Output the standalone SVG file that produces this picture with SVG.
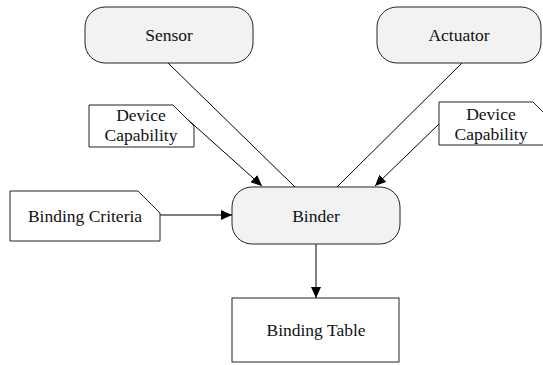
<svg xmlns="http://www.w3.org/2000/svg" width="543" height="365" viewBox="0 0 543 365">
<style>
.proc{fill:#f2f2f2;stroke:#222;stroke-width:1}
.note{fill:#fff;stroke:#222;stroke-width:1}
.box{fill:#fff;stroke:#222;stroke-width:1}
text{font-family:"Liberation Serif","Times New Roman",serif;font-size:17.5px;fill:#111;text-anchor:middle}
.edge{stroke:#000;stroke-width:1;fill:none}
</style>
<defs>
<marker id="arr" markerUnits="userSpaceOnUse" markerWidth="12" markerHeight="10" refX="11" refY="5" orient="auto">
<path d="M0,0 L11,5 L0,10 Z" fill="#000"/>
</marker>
</defs>
<rect width="543" height="365" fill="#fff"/>
<g id="connectors">
<line class="edge" x1="168" y1="63" x2="295" y2="187"/>
<line class="edge" x1="462" y1="63" x2="337" y2="187"/>
<line class="edge" x1="186" y1="118" x2="262" y2="186" marker-end="url(#arr)"/>
<line class="edge" x1="439" y1="124" x2="375" y2="186" marker-end="url(#arr)"/>
<line class="edge" x1="160" y1="215" x2="232" y2="215" marker-end="url(#arr)"/>
<line class="edge" x1="316" y1="244" x2="316" y2="298" marker-end="url(#arr)"/>
</g>
<g id="sensor">
<rect class="proc" x="85" y="7" width="168" height="56" rx="20" ry="20"/>
<text x="169" y="41">Sensor</text>
</g>
<g id="actuator">
<rect class="proc" x="377" y="7" width="164" height="56" rx="20" ry="20"/>
<text x="459" y="41">Actuator</text>
</g>
<g id="device-capability-left">
<polygon class="note" points="89,105 173,105 194,126 194,147 89,147"/>
<text x="141" y="121">Device</text>
<text x="141" y="141">Capability</text>
</g>
<g id="device-capability-right">
<polygon class="note" points="439,102 533,102 554,123 554,145 439,145"/>
<text x="491" y="120">Device</text>
<text x="491" y="140">Capability</text>
</g>
<g id="binding-criteria">
<polygon class="note" points="10,191 138,191 160,213 160,241 10,241"/>
<text x="85" y="222">Binding Criteria</text>
</g>
<g id="binder">
<rect class="proc" x="232" y="187" width="168" height="57" rx="20" ry="20"/>
<text x="316" y="222">Binder</text>
</g>
<g id="binding-table">
<rect class="box" x="232" y="298" width="167" height="64"/>
<text x="316" y="336">Binding Table</text>
</g>
</svg>
